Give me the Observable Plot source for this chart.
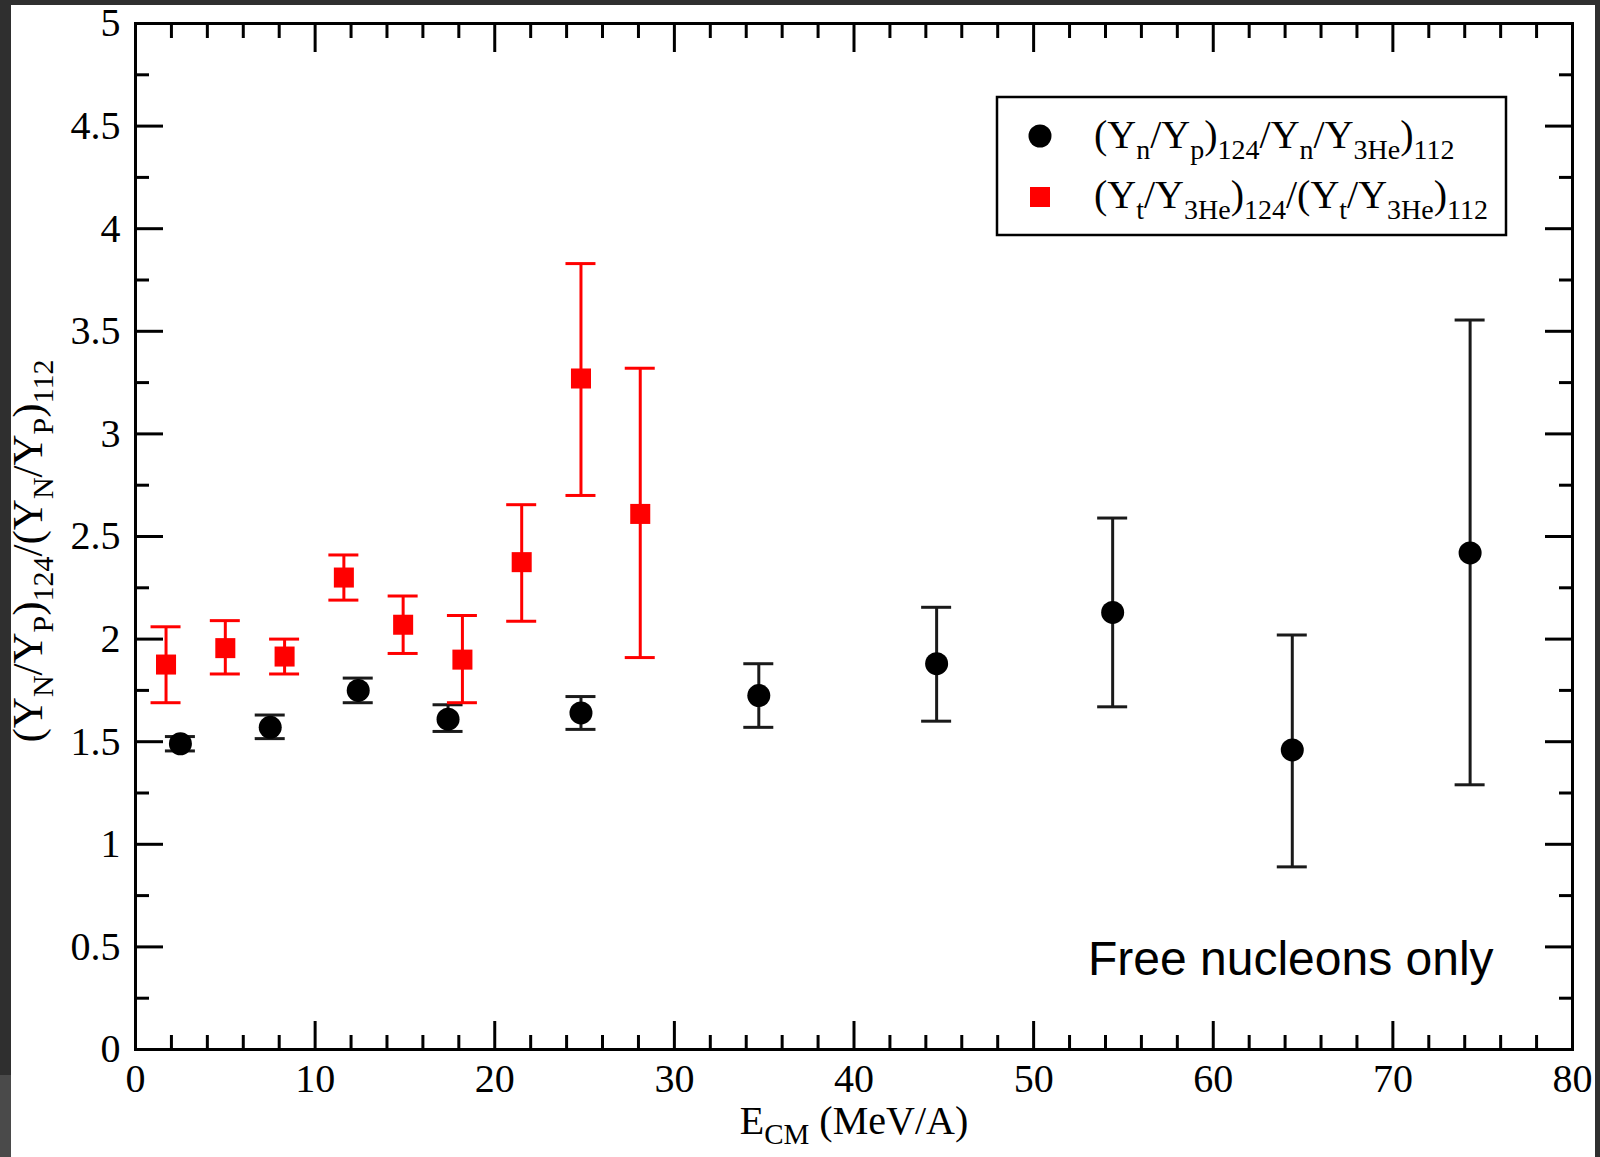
<!DOCTYPE html>
<html><head><meta charset="utf-8">
<script src="https://cdn.jsdelivr.net/npm/d3@7"></script>
<script src="https://cdn.jsdelivr.net/npm/@observablehq/plot@0.6"></script>
<style>
body{margin:0;background:#fff;}
#wrap{position:relative;width:1600px;height:1157px;overflow:hidden;background:#fff;}
#wrap svg{position:absolute;left:0;top:0;}
.strip{position:absolute;background:#2f2f2f;z-index:5;}
</style></head><body><div id="wrap"></div>
<script>
// ---- axis ticks ----
const xTicksMajor = [0, 10, 20, 30, 40, 50, 60, 70, 80];
const xTickLabels = ["0", "10", "20", "30", "40", "50", "60", "70", "80"];
const xTicksMinor = [2, 4, 6, 8, 12, 14, 16, 18, 22, 24, 26, 28, 32, 34, 36, 38, 42, 44, 46, 48, 52, 54, 56, 58, 62, 64, 66, 68, 72, 74, 76, 78];
const yTicksMajor = [0, 0.5, 1, 1.5, 2, 2.5, 3, 3.5, 4, 4.5, 5];
const yTickLabels = ["0", "0.5", "1", "1.5", "2", "2.5", "3", "3.5", "4", "4.5", "5"];
const yTicksMinor = [0.25, 0.75, 1.25, 1.75, 2.25, 2.75, 3.25, 3.75, 4.25, 4.75];

// ---- series 1: (Yn/Yp)124/(Yn/Y3He)112  (black circles) ----
const npEnergy = [2.5, 7.5, 12.4, 17.4, 24.8, 34.7, 44.6, 54.4, 64.4, 74.3];
const npRatio  = [1.49, 1.57, 1.75, 1.61, 1.64, 1.725, 1.88, 2.13, 1.46, 2.42];
const npLow    = [1.455, 1.515, 1.69, 1.55, 1.56, 1.57, 1.60, 1.67, 0.89, 1.29];
const npHigh   = [1.525, 1.63, 1.81, 1.68, 1.72, 1.88, 2.155, 2.59, 2.02, 3.555];

// ---- series 2: (Yt/Y3He)124/(Yt/Y3He)112  (red squares) ----
const tEnergy = [1.7, 5.0, 8.3, 11.6, 14.9, 18.2, 21.5, 24.8, 28.1];
const tRatio  = [1.876, 1.956, 1.915, 2.30, 2.07, 1.90, 2.375, 3.27, 2.61];
const tLow    = [1.69, 1.83, 1.83, 2.19, 1.93, 1.69, 2.087, 2.70, 1.91];
const tHigh   = [2.06, 2.09, 2.0, 2.41, 2.21, 2.115, 2.655, 3.83, 3.32];

const npData = npEnergy.map((e, i) => ({e, v: npRatio[i], lo: npLow[i], hi: npHigh[i]}));
const tData  = tEnergy.map((e, i) => ({e, v: tRatio[i], lo: tLow[i], hi: tHigh[i]}));

const RED = "#ff0000";
const BLK = "#000000";
const serif = "'Liberation Serif', 'Times New Roman', serif";
const MAJ = 28, MIN = 14, TW = 3;
const empty = () => "";

const plot = Plot.plot({
  width: 1600,
  height: 1157,
  marginLeft: 135,
  marginRight: 28,
  marginTop: 23,
  marginBottom: 108,
  style: {fontFamily: serif, fontSize: "40px", background: "transparent", color: "black"},
  x: {domain: [0, 80]},
  y: {domain: [0, 5]},
  marks: [
    // tick labels
    Plot.axisX({anchor: "bottom", ticks: xTicksMajor, tickSize: 0, tickPadding: 14, tickFormat: (d, i) => xTickLabels[i], label: null, fontSize: 40}),
    Plot.axisY({anchor: "left", ticks: yTicksMajor, tickSize: 0, tickPadding: 15, tickFormat: (d, i) => yTickLabels[i], label: null, fontSize: 40}),
    // inward ticks, all four sides
    Plot.axisX({anchor: "bottom", ticks: xTicksMajor, tickSize: MAJ, dy: -MAJ, tickFormat: empty, label: null, strokeWidth: TW}),
    Plot.axisX({anchor: "bottom", ticks: xTicksMinor, tickSize: MIN, dy: -MIN, tickFormat: empty, label: null, strokeWidth: TW}),
    Plot.axisX({anchor: "top", ticks: xTicksMajor, tickSize: MAJ, dy: MAJ, tickFormat: empty, label: null, strokeWidth: TW}),
    Plot.axisX({anchor: "top", ticks: xTicksMinor, tickSize: MIN, dy: MIN, tickFormat: empty, label: null, strokeWidth: TW}),
    Plot.axisY({anchor: "left", ticks: yTicksMajor, tickSize: MAJ, dx: MAJ, tickFormat: empty, label: null, strokeWidth: TW}),
    Plot.axisY({anchor: "left", ticks: yTicksMinor, tickSize: MIN, dx: MIN, tickFormat: empty, label: null, strokeWidth: TW}),
    Plot.axisY({anchor: "right", ticks: yTicksMajor, tickSize: MAJ, dx: -MAJ, tickFormat: empty, label: null, strokeWidth: TW}),
    Plot.axisY({anchor: "right", ticks: yTicksMinor, tickSize: MIN, dx: -MIN, tickFormat: empty, label: null, strokeWidth: TW}),
    Plot.frame({stroke: "black", strokeWidth: 3}),
    // black series error bars
    Plot.ruleX(npData, {x: "e", y1: "lo", y2: "hi", stroke: "#1a1a1a", strokeWidth: 3}),
    Plot.ruleY(npData, {y: "lo", x1: "e", x2: "e", insetLeft: -15, insetRight: -15, stroke: "#1a1a1a", strokeWidth: 3}),
    Plot.ruleY(npData, {y: "hi", x1: "e", x2: "e", insetLeft: -15, insetRight: -15, stroke: "#1a1a1a", strokeWidth: 3}),
    Plot.dot(npData, {x: "e", y: "v", r: 11.5, fill: BLK, stroke: "none"}),
    // red series error bars
    Plot.ruleX(tData, {x: "e", y1: "lo", y2: "hi", stroke: RED, strokeWidth: 3}),
    Plot.ruleY(tData, {y: "lo", x1: "e", x2: "e", insetLeft: -15, insetRight: -15, stroke: RED, strokeWidth: 3}),
    Plot.ruleY(tData, {y: "hi", x1: "e", x2: "e", insetLeft: -15, insetRight: -15, stroke: RED, strokeWidth: 3}),
    Plot.dot(tData, {x: "e", y: "v", r: 11.3, symbol: "square", fill: RED, stroke: "none"})
  ]
});

document.getElementById("wrap").appendChild(plot);
const svg = d3.select(plot);

function rich(g, parts, {x, y, size, subSize, shift, anchor = "start", family = serif, transform = null}) {
  const t = g.append("text")
    .attr("x", x).attr("y", y)
    .attr("font-family", family)
    .attr("font-size", size)
    .attr("text-anchor", anchor)
    .attr("fill", "black");
  if (transform) t.attr("transform", transform);
  let cur = 0;
  parts.forEach(([s, sub]) => {
    const target = sub ? shift : 0;
    t.append("tspan").attr("dy", target - cur).attr("font-size", sub ? subSize : size).text(s);
    cur = target;
  });
  return t;
}

// y-axis label
rich(svg, [["(Y", 0], ["N", 1], ["/Y", 0], ["P", 1], [")", 0], ["124", 1], ["/(Y", 0], ["N", 1], ["/Y", 0], ["P", 1], [")", 0], ["112", 1]],
  {x: 0, y: 0, size: 43, subSize: 30, shift: 11, anchor: "middle", transform: "translate(42,551) rotate(-90)"});

// x-axis label
rich(svg, [["E", 0], ["CM", 1], [" (MeV/A)", 0]],
  {x: 854, y: 1134, size: 40, subSize: 29, shift: 10, anchor: "middle"});

// annotation
svg.append("text").attr("x", 1088).attr("y", 975)
  .attr("text-anchor", "start")
  .attr("font-family", "'Liberation Sans', Arial, sans-serif").attr("font-size", 48).attr("fill", "black")
  .text("Free nucleons only");

// legend
const lg = svg.append("g");
lg.append("rect").attr("x", 997).attr("y", 97).attr("width", 509).attr("height", 138)
  .attr("fill", "white").attr("stroke", "black").attr("stroke-width", 2.5);
lg.append("circle").attr("cx", 1040).attr("cy", 136).attr("r", 11.5).attr("fill", BLK);
lg.append("rect").attr("x", 1030).attr("y", 187).attr("width", 20).attr("height", 20).attr("fill", RED);
rich(lg, [["(Y", 0], ["n", 1], ["/Y", 0], ["p", 1], [")", 0], ["124", 1], ["/Y", 0], ["n", 1], ["/Y", 0], ["3He", 1], [")", 0], ["112", 1]],
  {x: 1094, y: 148, size: 40, subSize: 28, shift: 11});
rich(lg, [["(Y", 0], ["t", 1], ["/Y", 0], ["3He", 1], [")", 0], ["124", 1], ["/(Y", 0], ["t", 1], ["/Y", 0], ["3He", 1], [")", 0], ["112", 1]],
  {x: 1094, y: 208, size: 40, subSize: 28, shift: 11});

// dark photo border
const wrap = document.getElementById("wrap");
[[0, 0, 1600, 5, "#2f2f2f"], [0, 0, 11, 1075, "#2f2f2f"], [0, 1075, 11, 82, "#4a4a4a"], [1595, 0, 5, 1157, "#2f2f2f"]].forEach(([l, t, w, h, c]) => {
  const d = document.createElement("div");
  d.className = "strip";
  d.style.cssText = `left:${l}px;top:${t}px;width:${w}px;height:${h}px;background:${c}`;
  wrap.appendChild(d);
});
</script></body></html>
